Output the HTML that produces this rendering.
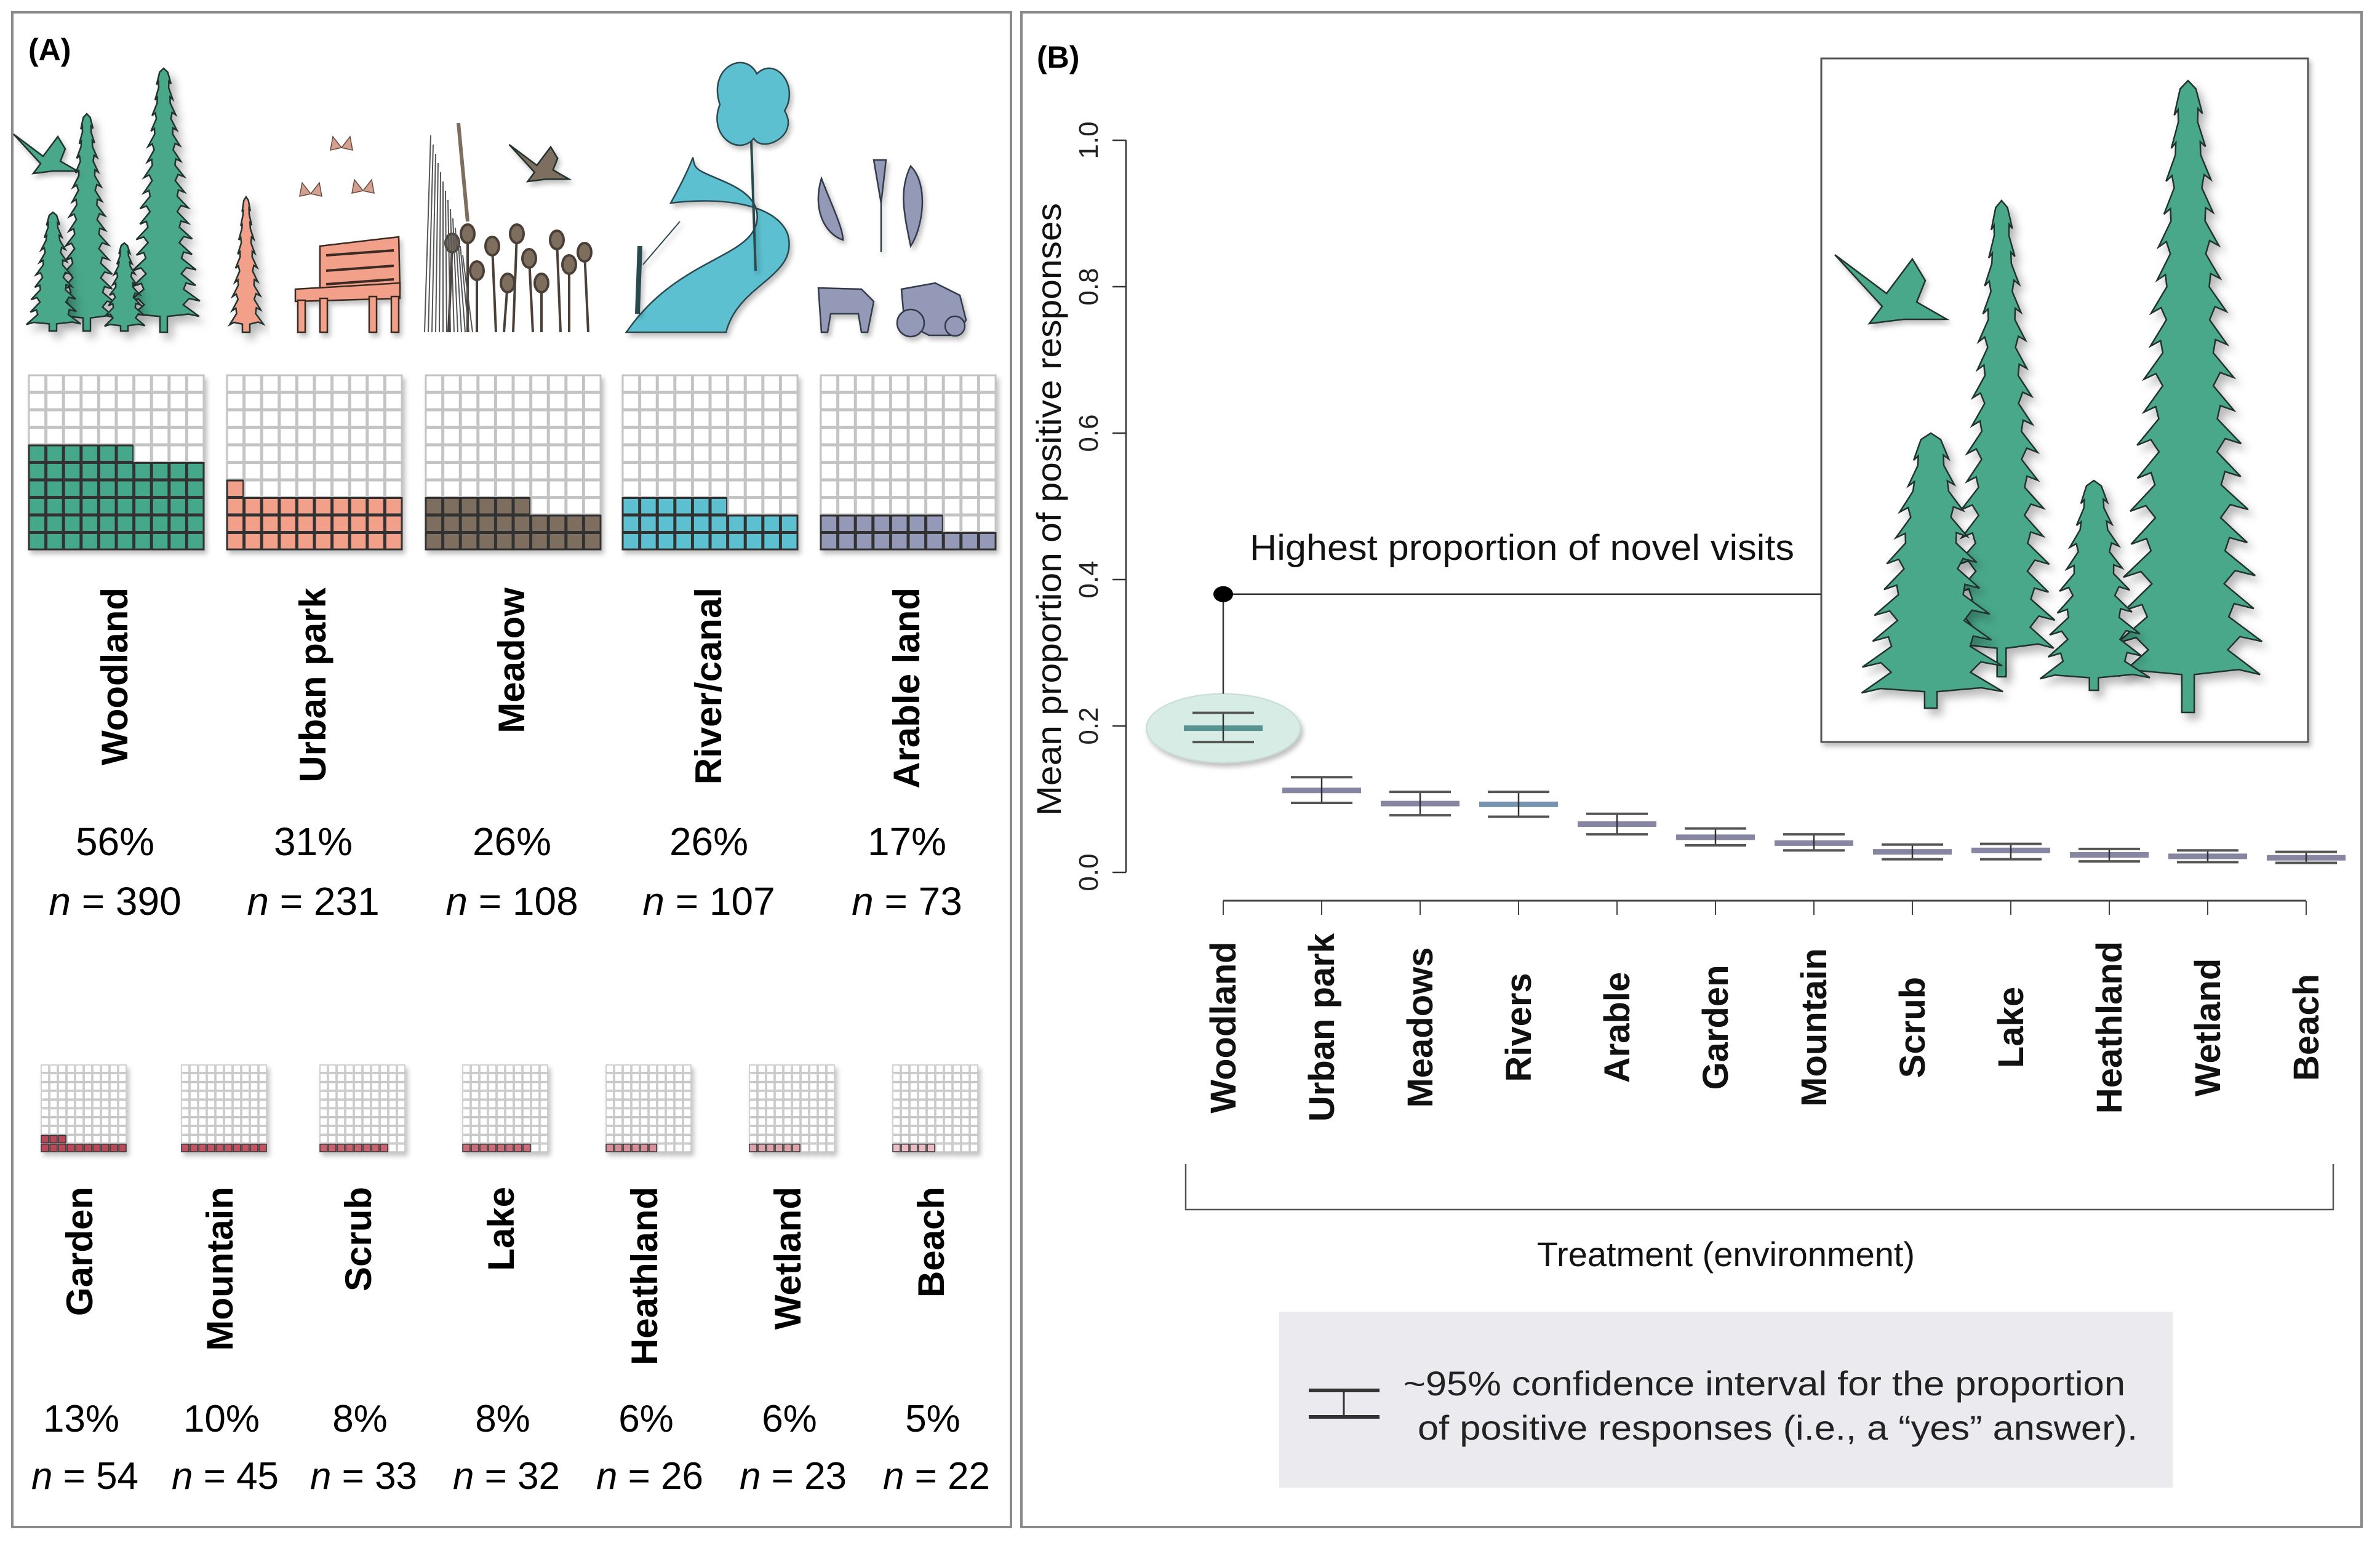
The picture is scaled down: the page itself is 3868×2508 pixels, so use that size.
<!DOCTYPE html>
<html><head><meta charset="utf-8"><style>
html,body{margin:0;padding:0;background:#fff;}
svg{display:block;font-family:"Liberation Sans",Arial,sans-serif;}
</style></head><body>
<svg id="fig" width="3868" height="2508" viewBox="0 0 3868 2508" xmlns="http://www.w3.org/2000/svg">
<defs>
<filter id="sh" x="-10%" y="-10%" width="130%" height="130%"><feDropShadow dx="8" dy="10" stdDeviation="7" flood-color="#000" flood-opacity="0.28"/></filter>
<filter id="sh2" x="-10%" y="-10%" width="130%" height="130%"><feDropShadow dx="4" dy="6" stdDeviation="4" flood-color="#000" flood-opacity="0.25"/></filter>
</defs>
<rect x="20" y="20" width="1623" height="2462" fill="#fff" stroke="#8a8a8a" stroke-width="4"/>
<rect x="1660" y="20" width="2178" height="2462" fill="#fff" stroke="#8a8a8a" stroke-width="4"/>
<text x="46" y="98" font-size="50" font-weight="bold">(A)</text>
<text x="1685" y="110" font-size="50" font-weight="bold">(B)</text>
<g id="illA"></g>
<g id="wafTop"></g>
<g id="wafBot"></g>
<g id="inset">
<rect x="2960" y="95" width="791" height="1111" fill="#fff" stroke="#555" stroke-width="3" filter="url(#sh2)"/>
</g>
<g id="chartB"></g>
</svg>
<script>
// ---- Panel A data ----
const topCats = ["Woodland","Urban park","Meadow","River/canal","Arable land"];
const topPct = [56,31,26,26,17];
const topN = [390,231,108,107,73];
const botCats = ["Garden","Mountain","Scrub","Lake","Heathland","Wetland","Beach"];
const botPct = [13,10,8,8,6,6,5];
const botN = [54,45,33,32,26,23,22];
// ---- Panel B data ----
const treatments = ["Woodland","Urban park","Meadows","Rivers","Arable","Garden","Mountain","Scrub","Lake","Heathland","Wetland","Beach"];
const meanProp = [0.197,0.112,0.094,0.093,0.066,0.048,0.040,0.028,0.030,0.024,0.022,0.020];
const ciLow = [0.178,0.095,0.078,0.076,0.052,0.037,0.030,0.018,0.018,0.015,0.014,0.013];
const ciHigh = [0.218,0.130,0.110,0.110,0.080,0.060,0.052,0.038,0.039,0.032,0.030,0.028];
const yTicks = [0.0,0.2,0.4,0.6,0.8,1.0];
const calloutValue = 0.38;

const NS="http://www.w3.org/2000/svg";
function mk(tag,attrs,parent){const e=document.createElementNS(NS,tag);for(const k in attrs)e.setAttribute(k,attrs[k]);if(parent)parent.appendChild(e);return e;}

// ---------- Waffles ----------
const topColors=["#45a88b","#f2a08a","#7d6e5e","#5cc0d0","#9599b8"];
const topX=[46,368,691,1011,1333];
const botColors=["#b84a58","#c25262","#c8606e","#cc6a78","#d88e98","#dea2aa","#ecbcc4"];
const botX=[66,294,519,751,984,1217,1450];
function waffle(g,x0,y0,w,h,pct,color,name,sw){
  const wg=mk('g',{},g);
  
  
  const cw=w/10,ch=h/10;
  for(let r=0;r<10;r++)for(let c=0;c<10;c++){
    const idx=(9-r)*10+c;
    const filled=idx<pct;
    mk('rect',{x:x0+c*cw+1,y:y0+r*ch+1,width:cw-2,height:ch-2,fill:filled?color:'#fff',stroke:filled?'#333':'#c4c4c4','stroke-width':sw},wg);
  }
  wg.setAttribute('filter','url(#sh2)');
}
const wt=document.getElementById('wafTop');
topCats.forEach((c,i)=>{
  waffle(wt,topX[i],609,286,285,topPct[i],topColors[i],'waffle-'+c.toLowerCase().replace(/[^a-z]+/g,'-'),3);
  const cx=topX[i]+143;
  const t=mk('text',{x:cx+18,y:955,'font-size':60,'font-weight':'bold','text-anchor':'end',transform:`rotate(-90 ${cx+18} 955)`},wt);
  
  
  t.textContent=c;
  const p=mk('text',{x:cx-2,y:1390,'font-size':64,'text-anchor':'middle'},wt);
  
  
  p.textContent=topPct[i]+'%';
  const n=mk('text',{x:cx-2,y:1487,'font-size':64,'text-anchor':'middle'},wt);
  
  
  n.innerHTML='<tspan font-style="italic">n</tspan> = '+topN[i];
});
const wb=document.getElementById('wafBot');
botCats.forEach((c,i)=>{
  waffle(wb,botX[i],1730,140,143,botPct[i],botColors[i],'waffle-'+c.toLowerCase(),1.5);
  const cx=botX[i]+70;
  const t=mk('text',{x:cx+14,y:1929,'font-size':60,'font-weight':'bold','text-anchor':'end',transform:`rotate(-90 ${cx+14} 1929)`},wb);
  
  
  t.textContent=c;
  const p=mk('text',{x:cx-4,y:2327,'font-size':62,'text-anchor':'middle'},wb);
  
  
  p.textContent=botPct[i]+'%';
  const n=mk('text',{x:cx+2,y:2420,'font-size':62,'text-anchor':'middle'},wb);
  
  
  n.innerHTML='<tspan font-style="italic">n</tspan> = '+botN[i];
});

// ---------- Trees ----------
function tree(g,cx,top,base,hw,color,name,n){
  n=n||12;
  const trunkTop=base-(base-top)*0.06;
  const L=[],R=[];
  const step=(trunkTop-top)/n;
  for(let i=1;i<=n;i++){
    const f=i/n;
    const w=hw*(0.12+0.88*Math.pow(f,0.9));
    const y=top+step*i;
    const wi=w*(i%2?1:0.93);
    R.push([cx+wi*0.55,y-step*0.75],[cx+wi,y],[cx+wi*0.7,y-step*0.15]);
    L.push([cx-wi*0.55,y-step*0.75],[cx-wi*0.96,y+step*0.05],[cx-wi*0.7,y-step*0.12]);
  }
  const tw=Math.max(6,hw*0.08);
  let pts=[[cx,top]].concat(R).concat([[cx+tw,trunkTop],[cx+tw,base],[cx-tw,base],[cx-tw,trunkTop]]).concat(L.reverse());
  const p=mk('polygon',{points:pts.map(q=>q[0].toFixed(1)+','+q[1].toFixed(1)).join(' '),fill:color,stroke:'#22332e','stroke-width':2.5,filter:'url(#sh)'},g);
  
  
}
function bird(g,x,y,s,color,name){
  const p=mk('path',{d:`M${x-70*s},${y-40*s} L${x-10*s},${y+5*s} L${x+20*s},${y-35*s} L${x+35*s},${y-10*s} L${x+25*s},${y+15*s} L${x+60*s},${y+35*s} L${x+10*s},${y+35*s} L${x-30*s},${y+40*s} L${x-15*s},${y+20*s} Z`,fill:color,stroke:'#22332e','stroke-width':2.5,filter:'url(#sh2)'},g);
  
  
}
const ins=document.getElementById('inset');
const tc="#4aa88a";
tree(ins,3253,326,1100,91,tc,'inset-tree',16);
tree(ins,3556,131,1158,126,tc,'inset-tree',18);
tree(ins,3138,704,1151,126,tc,'inset-tree',10);
tree(ins,3403,781,1122,91,tc,'inset-tree',9);
bird(ins,3080,470,1.4,tc,'inset-bird');

const il=document.getElementById('illA');
tree(il,141,185,538,50,tc,'woodland-tree',14);
tree(il,266,111,540,62,tc,'woodland-tree',16);
tree(il,86,345,538,45,tc,'woodland-tree',9);
tree(il,202,395,538,36,tc,'woodland-tree',8);
bird(il,78,250,0.8,tc,'woodland-bird');
tree(il,400,320,540,28,'#f2a08a','park-tree',9);
// bench
const bench=mk('g',{fill:'#f2a08a',stroke:'#3a2a24','stroke-width':2.5,filter:'url(#sh2)'},il);


mk('path',{d:'M520,400 L648,385 L650,470 L520,480 Z'},bench);
mk('path',{d:'M480,470 L650,460 L650,485 L480,490 Z'},bench);
mk('rect',{x:484,y:488,width:12,height:52},bench);
mk('rect',{x:520,y:485,width:12,height:55},bench);
mk('rect',{x:600,y:482,width:12,height:58},bench);
mk('rect',{x:636,y:482,width:12,height:58},bench);
[415,440,462].forEach(y=>mk('line',{x1:530,y1:y,x2:640,y2:y-8,stroke:'#3a2a24','stroke-width':4},bench));
// butterflies
[[505,315],[590,310],[555,240]].forEach(b=>{const bf=mk('path',{d:`M${b[0]},${b[1]} l-14,-18 l-4,22 z M${b[0]},${b[1]} l14,-18 l4,22 z`,fill:'#d4a090',stroke:'#6a4a40','stroke-width':1.5},il);});
// meadow
const md=mk('g',{stroke:'#4a4038','stroke-width':4,fill:'#7d6e5e'},il);


[[735,395],[760,380],[775,440],[800,400],[825,460],[840,380],[860,420],[880,460],[905,390],[925,430],[950,410]].forEach(f=>{mk('line',{x1:f[0],y1:f[1],x2:f[0]+(f[0]%3-1)*6,y2:540},md);mk('ellipse',{cx:f[0],cy:f[1],rx:11,ry:15},md);});
for(let i=0;i<14;i++){mk('line',{x1:690+i*6,y1:540,x2:700+i*4,y2:220+i*15,stroke:'#555','stroke-width':2},md);}
mk('line',{x1:760,y1:360,x2:745,y2:200,stroke:'#7d6e5e','stroke-width':6},md);
bird(il,880,265,0.75,'#7d6e5e','meadow-bird');
// river
const rv=mk('path',{d:'M1018,540 C1100,420 1220,420 1230,360 C1240,300 1140,290 1130,270 C1120,250 1140,240 1090,330 C1170,320 1260,330 1280,380 C1300,450 1200,460 1180,540 Z',fill:'#5cc0d0',stroke:'#2a4a50','stroke-width':2.5,filter:'url(#sh2)'},il);


const rt=mk('g',{fill:'#5cc0d0',stroke:'#2a4a50','stroke-width':2.5,filter:'url(#sh2)'},il);


mk('line',{x1:1228,y1:440,x2:1220,y2:200,'stroke-width':4},rt);
mk('path',{d:'M1170,170 C1150,110 1210,80 1230,120 C1260,90 1300,140 1275,180 C1300,220 1240,250 1225,225 C1200,255 1150,220 1170,170 Z'},rt);
mk('line',{x1:1036,y1:510,x2:1040,y2:400,'stroke-width':8},rt);
mk('line',{x1:1045,y1:430,x2:1105,y2:360,'stroke-width':2},rt);
// arable
const ar=mk('g',{fill:'#9599b8',stroke:'#333a4a','stroke-width':2.5,filter:'url(#sh2)'},il);


mk('path',{d:'M1330,468 L1400,470 L1420,490 L1410,540 L1400,540 L1395,510 L1350,510 L1345,540 L1335,540 Z'},ar);
mk('path',{d:'M1465,470 L1520,460 L1560,480 L1570,520 L1555,545 L1510,545 L1470,525 Z'},ar);
mk('circle',{cx:1480,cy:525,r:22},ar);mk('circle',{cx:1552,cy:530,r:16},ar);
mk('path',{d:'M1335,290 C1350,330 1370,370 1370,390 C1340,380 1320,340 1335,290 Z'},ar);
mk('path',{d:'M1480,270 C1510,300 1500,370 1480,400 C1470,350 1460,310 1480,270 Z'},ar);
mk('path',{d:'M1420,260 L1432,330 L1440,260 Z'},ar);
mk('line',{x1:1432,y1:330,x2:1432,y2:410},ar);
// ---------- Panel B chart ----------
const cb=document.getElementById('chartB');
const y0=1418,y1=228;
function Y(v){return y0+(y1-y0)*v;}
const x0=1988,dx=160;
function X(i){return x0+i*dx;}
// y axis
const ya=mk('line',{x1:1830,y1:Y(0),x2:1830,y2:Y(1),stroke:'#333','stroke-width':2.5},cb);


yTicks.forEach(v=>{
  const tk=mk('line',{x1:1808,y1:Y(v),x2:1830,y2:Y(v),stroke:'#333','stroke-width':2.5},cb);
  
  
  const lb=mk('text',{x:1784,y:Y(v),'font-size':44,'text-anchor':'middle',transform:`rotate(-90 1784 ${Y(v)})`,fill:'#222'},cb);
  
  
  lb.textContent=v.toFixed(1);
});
const yt=mk('text',{x:1724,y:828,'font-size':56,'text-anchor':'middle',transform:'rotate(-90 1724 828)',textLength:996,lengthAdjust:'spacingAndGlyphs',fill:'#111'},cb);


yt.textContent='Mean proportion of positive responses';
// x axis
const xa=mk('line',{x1:X(0),y1:1464,x2:X(treatments.length-1),y2:1464,stroke:'#444','stroke-width':3},cb);


// callout
const ell=mk('ellipse',{cx:X(0),cy:Y(meanProp[0]),rx:125,ry:56,fill:'#d8ece6',stroke:'#c8dcd6','stroke-width':2,filter:'url(#sh2)'},cb);


const cl=mk('path',{d:`M${X(0)},${Y(meanProp[0])-56} L${X(0)},${Y(calloutValue)} L2960,${Y(calloutValue)}`,fill:'none',stroke:'#333','stroke-width':2.5},cb);


const cd=mk('ellipse',{cx:X(0),cy:Y(calloutValue),rx:16,ry:13,fill:'#000'},cb);


const ct=mk('text',{x:2031,y:910,'font-size':58,textLength:885,lengthAdjust:'spacingAndGlyphs',fill:'#111'},cb);


ct.textContent='Highest proportion of novel visits';
treatments.forEach((t,i)=>{
  const x=X(i);
  const tk=mk('line',{x1:x,y1:1464,x2:x,y2:1487,stroke:'#444','stroke-width':2},cb);
  
  
  const g=mk('g',{},cb);
  
  
  const mc=i==0?'#4a8a88':(i==3?'#6a8aa8':'#7a7a98');
  mk('line',{x1:x-64,y1:Y(meanProp[i]),x2:x+64,y2:Y(meanProp[i]),stroke:mc,'stroke-width':9,opacity:0.9},g);
  mk('line',{x1:x,y1:Y(ciLow[i]),x2:x,y2:Y(ciHigh[i]),stroke:'#333','stroke-width':2.5},g);
  mk('line',{x1:x-50,y1:Y(ciLow[i]),x2:x+50,y2:Y(ciLow[i]),stroke:'#555','stroke-width':4},g);
  mk('line',{x1:x-50,y1:Y(ciHigh[i]),x2:x+50,y2:Y(ciHigh[i]),stroke:'#555','stroke-width':4},g);
  const lb=mk('text',{x:x+20,y:1670,'font-size':58,'font-weight':'bold','text-anchor':'middle',transform:`rotate(-90 ${x+20} 1670)`,fill:'#111'},cb);
  
  
  lb.textContent=t;
});
const br=mk('path',{d:'M1927,1892 L1927,1966 L3792,1966 L3792,1892',fill:'none',stroke:'#555','stroke-width':2.5},cb);


const xt=mk('text',{x:2805,y:2058,'font-size':56,'text-anchor':'middle',fill:'#111'},cb);


xt.textContent='Treatment (environment)';
// legend
const lg=mk('g',{},cb);


mk('rect',{x:2079,y:2132,width:1452,height:286,fill:'#ebebef'},lg);
mk('line',{x1:2127,y1:2260,x2:2242,y2:2260,stroke:'#333','stroke-width':6},lg);
mk('line',{x1:2127,y1:2303,x2:2242,y2:2303,stroke:'#333','stroke-width':6},lg);
mk('line',{x1:2184,y1:2260,x2:2184,y2:2303,stroke:'#333','stroke-width':3},lg);
const l1=mk('text',{x:2281,y:2268,'font-size':56,textLength:1173,lengthAdjust:'spacingAndGlyphs',fill:'#222'},lg);


l1.textContent='~95% confidence interval for the proportion';
const l2=mk('text',{x:2304,y:2340,'font-size':56,textLength:1170,lengthAdjust:'spacingAndGlyphs',fill:'#222'},lg);


l2.textContent='of positive responses (i.e., a \u201cyes\u201d answer).';
</script>
</body></html>
